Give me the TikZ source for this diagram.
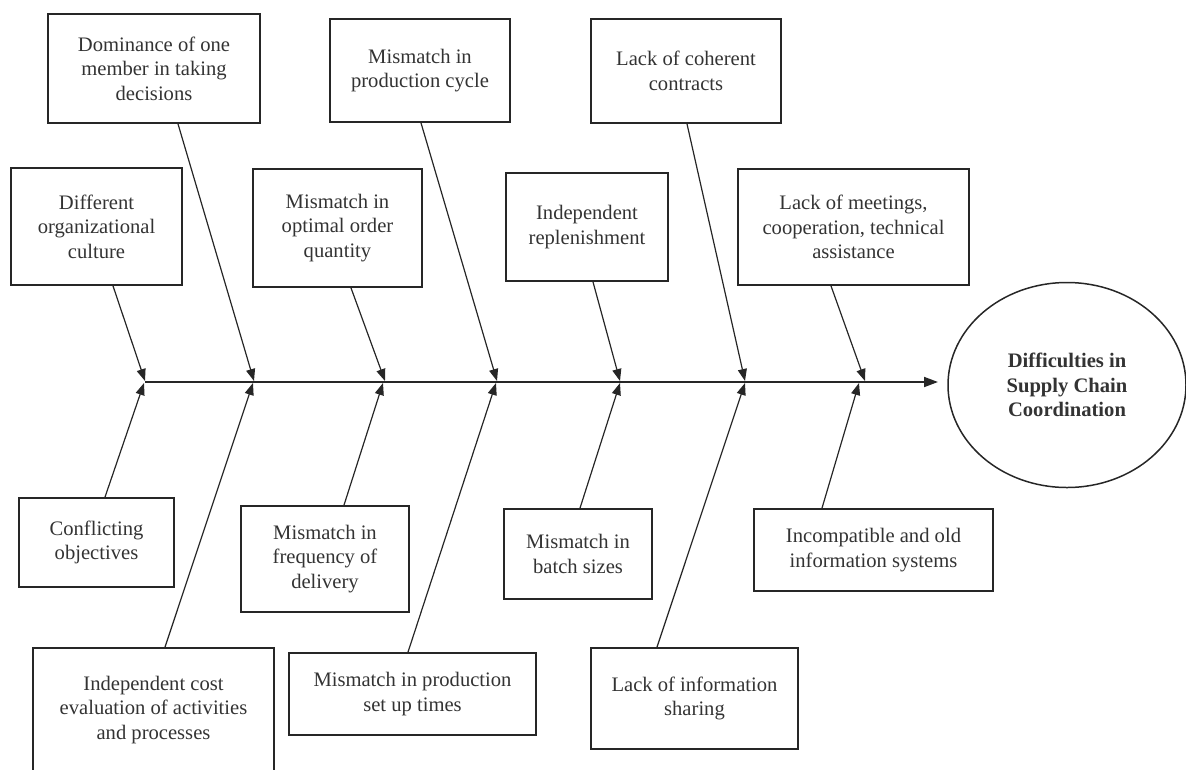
\documentclass[tikz,border=0pt]{standalone}
\usepackage{fontspec}
\setmainfont{Liberation Serif}
\usetikzlibrary{arrows.meta,shapes.geometric}
\begin{document}
\begin{tikzpicture}[x=1pt,y=-1pt,
  box/.style={draw=black!85,line width=1.8pt,align=center,inner sep=2pt,
    font=\fontsize{20.6}{24.5}\selectfont,text=black!80},
  conn/.style={draw=black!85,line width=1.2pt,-{Triangle[length=12pt,width=9pt]}},
  spine/.style={draw=black!85,line width=1.8pt,-{Triangle[length=14pt,width=10pt]}},
  goalnode/.style={draw=black!85,ellipse,line width=1.5pt,align=center,
    font=\fontsize{20.6}{24.5}\selectfont\bfseries,text=black!80,inner sep=0pt}]
\useasboundingbox (0,0) rectangle (1186,769);

% top row
\node[box,minimum width=212pt,minimum height=109pt] (dom) at (154,68.5) {Dominance of one\\member in taking\\decisions};
\node[box,minimum width=180pt,minimum height=103pt] (cyc) at (420,70.5) {Mismatch in\\production cycle};
\node[box,minimum width=190pt,minimum height=104pt] (con) at (686,71) {Lack of coherent\\contracts};
% second row
\node[box,minimum width=171pt,minimum height=117pt] (dif) at (96.5,226.5) {Different\\organizational\\culture};
\node[box,minimum width=169pt,minimum height=118pt] (opt) at (337.5,228) {Mismatch in\\optimal order\\quantity};
\node[box,minimum width=162pt,minimum height=108pt] (rep) at (587,227) {Independent\\replenishment};
\node[box,minimum width=231pt,minimum height=116pt] (mee) at (853.5,227) {Lack of meetings,\\cooperation, technical\\assistance};
% third row
\node[box,minimum width=155pt,minimum height=89pt] (cfl) at (96.5,542.5) {Conflicting\\objectives};
\node[box,minimum width=168pt,minimum height=106pt] (fre) at (325,559) {Mismatch in\\frequency of\\delivery};
\node[box,minimum width=148pt,minimum height=90pt] (bat) at (578,554) {Mismatch in\\batch sizes};
\node[box,minimum width=239pt,minimum height=82pt] (inc) at (873.5,550) {Incompatible and old\\information systems};
% bottom row
\node[box,minimum width=241pt,minimum height=124pt] (ice) at (153.5,710) {Independent cost\\evaluation of activities\\and processes};
\node[box,minimum width=247pt,minimum height=82pt] (set) at (412.5,694) {Mismatch in production\\set up times};
\node[box,minimum width=207pt,minimum height=101pt] (inf) at (694.5,698.5) {Lack of information\\sharing};

% effect
\node[goalnode,minimum width=238pt,minimum height=205pt] (goal) at (1067,385) {Difficulties in\\Supply Chain\\Coordination};

% spine
\coordinate (s0) at (145,382);
\coordinate (s1) at (938,382);
\draw[spine] (s0) -- (s1);

% junctions on spine
\coordinate (t1) at (145,381);
\coordinate (t2) at (254,381);
\coordinate (t3) at (385,381);
\coordinate (t4) at (497,381);
\coordinate (t5) at (620,381);
\coordinate (t6) at (745,381);
\coordinate (t7) at (865,381);
\coordinate (b1) at (144,383);
\coordinate (b2) at (253,383);
\coordinate (b3) at (383,383);
\coordinate (b4) at (496,383);
\coordinate (b5) at (620,383);
\coordinate (b6) at (745,383);
\coordinate (b7) at (859,383);

% causes above
\draw[conn] ([xshift=16.5pt]dif.south) -- (t1);
\draw[conn] ([xshift=24pt]dom.south) -- (t2);
\draw[conn] ([xshift=13.5pt]opt.south) -- (t3);
\draw[conn] ([xshift=1pt]cyc.south) -- (t4);
\draw[conn] ([xshift=6pt]rep.south) -- (t5);
\draw[conn] ([xshift=1pt]con.south) -- (t6);
\draw[conn] ([xshift=-22.5pt]mee.south) -- (t7);

% causes below
\draw[conn] ([xshift=8.5pt]cfl.north) -- (b1);
\draw[conn] ([xshift=11.5pt]ice.north) -- (b2);
\draw[conn] ([xshift=19pt]fre.north) -- (b3);
\draw[conn] ([xshift=-4.5pt]set.north) -- (b4);
\draw[conn] ([xshift=2pt]bat.north) -- (b5);
\draw[conn] ([xshift=-37.5pt]inf.north) -- (b6);
\draw[conn] ([xshift=-51.5pt]inc.north) -- (b7);
\end{tikzpicture}
\end{document}
